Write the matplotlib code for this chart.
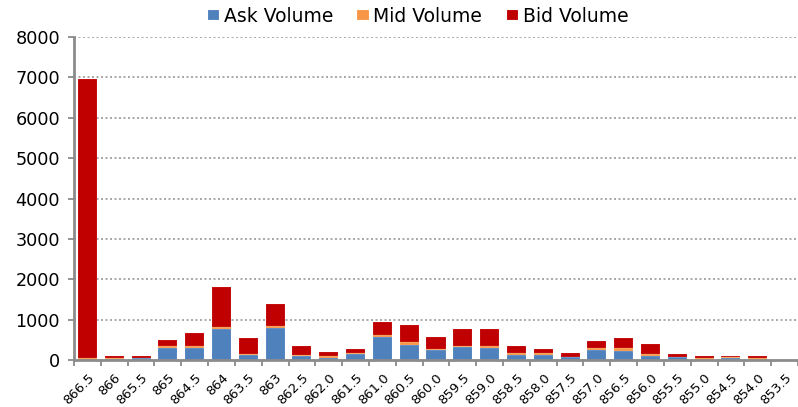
import matplotlib
matplotlib.use("Agg")
import matplotlib.pyplot as plt
import numpy as np

categories = ["866.5", "866", "865.5", "865", "864.5", "864", "863.5", "863", "862.5",
              "862.0", "861.5", "861.0", "860.5", "860.0", "859.5", "859.0", "858.5",
              "858.0", "857.5", "857.0", "856.5", "856.0", "855.5", "855.0", "854.5",
              "854.0", "853.5"]
ask_volume = [10, 15, 50, 300, 300, 780, 130, 800, 100, 60, 140, 575, 380, 260, 315, 305,
              130, 130, 65, 255, 230, 105, 70, 10, 60, 10, 0]
mid_volume = [50, 40, 5, 40, 40, 30, 20, 50, 30, 40, 40, 40, 60, 20, 30, 50,
              50, 45, 15, 45, 55, 40, 10, 45, 10, 45, 0]
bid_volume = [6890, 45, 50, 160, 320, 990, 395, 530, 210, 90, 85, 325, 420, 295, 430, 420,
              165, 90, 100, 170, 260, 245, 70, 45, 40, 45, 0]
yticks = [0, 1000, 2000, 3000, 4000, 5000, 6000, 7000, 8000]

fig = plt.figure(figsize=(7.98, 4.07), dpi=100)
ax = fig.add_axes([74/798, 1-360/407, 724/798, 323/407])

x = np.arange(len(categories))
ask = np.array(ask_volume)
mid = np.array(mid_volume)
bid = np.array(bid_volume)
w = 0.71
ec = (1, 1, 1, 0.3)
ax.bar(x, ask, w, color="#4F81BD", edgecolor=ec, linewidth=0.3, label="Ask Volume", zorder=3)
ax.bar(x, mid, w, bottom=ask, color="#F79646", edgecolor=ec, linewidth=0.3, label="Mid Volume", zorder=3)
ax.bar(x, bid, w, bottom=ask+mid, color="#C00000", edgecolor=ec, linewidth=0.3, label="Bid Volume", zorder=3)

ax.set_xlim(-0.5, len(categories) - 0.5)
ax.set_ylim(0, 8000)
ax.set_yticks(yticks)
ax.set_yticklabels([str(v) for v in yticks], fontsize=12.7)
ax.yaxis.grid(True, linestyle=(0, (1.2, 1.5)), color="#9a9a9a", linewidth=1.2, zorder=0)

ax.set_xticks(x)
ax.set_xticklabels(categories, rotation=45, ha="right", va="top", rotation_mode="anchor", fontsize=9.5)
ax.set_xticks(np.arange(len(categories) + 1) - 0.5, minor=True)
ax.tick_params(axis="x", which="major", length=0, pad=8)
ax.tick_params(axis="x", which="minor", length=4, width=1.2, color="#808080", direction="out")
ax.tick_params(axis="y", length=4, width=1.2, color="#808080", direction="out", pad=6)

for s in ["top", "right"]:
    ax.spines[s].set_visible(False)
for s in ["left", "bottom"]:
    ax.spines[s].set_color("#8c8c8c")
    ax.spines[s].set_linewidth(2)
    ax.spines[s].set_zorder(4)

leg = fig.legend(loc="center", bbox_to_anchor=(418/798, 1-16/407), ncol=3, frameon=False,
                 fontsize=13.5, handlelength=0.6, handleheight=0.5, handletextpad=0.25,
                 columnspacing=1.3, borderaxespad=0)

fig.savefig("out.png", dpi=100)
